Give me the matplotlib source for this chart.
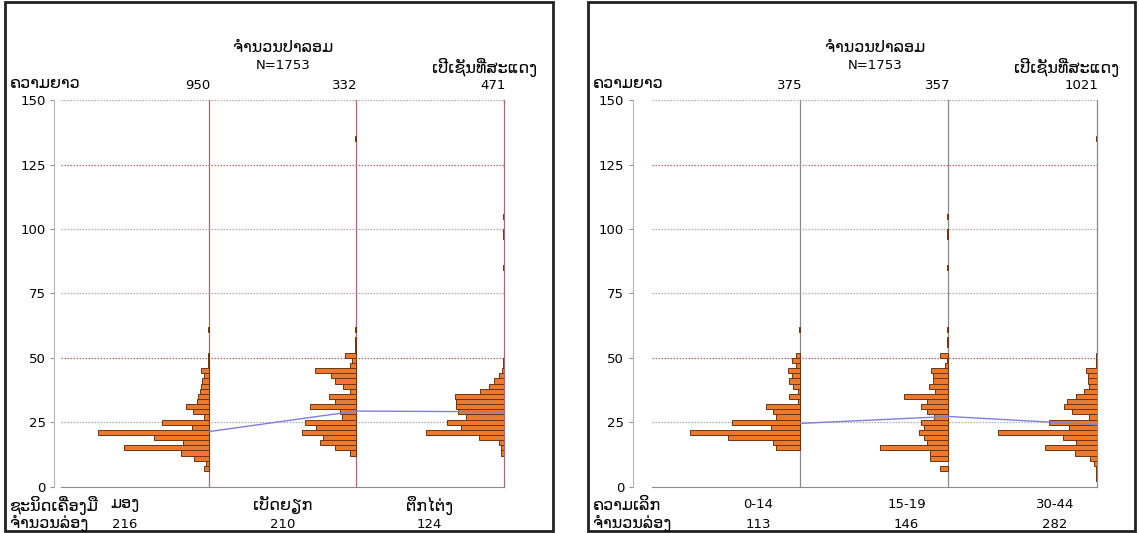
import matplotlib
matplotlib.use("Agg")
import matplotlib.pyplot as plt
from matplotlib.patches import Rectangle
from matplotlib.transforms import blended_transform_factory

# length classes (cm, bin centres, 2 cm bins) and percent of fish per group
gear_len = [
    [7, 9, 11, 13, 15, 17, 19, 21, 23, 25, 27, 29, 31, 33, 35, 37, 39, 41, 43, 45, 47, 49, 51, 61],
    [13, 15, 17, 19, 21, 23, 25, 27, 29, 31, 33, 35, 37, 39, 41, 43, 45, 47, 49, 51, 53, 55, 57, 61, 135],
    [13, 15, 17, 19, 21, 23, 25, 27, 29, 31, 33, 35, 37, 39, 41, 43, 45, 47, 49, 85, 97, 99, 105],
]
gear_pct = [
    [1.0, 0.6, 2.9, 5.5, 17.1, 5.1, 11.0, 22.4, 3.3, 9.4, 1.0, 3.1, 4.5, 2.4, 2.2, 1.7, 1.6, 1.4, 1.0, 1.5, 0.2, 0.2, 0.2, 0.2],
    [1.2, 4.3, 7.3, 6.7, 11.0, 8.2, 10.4, 2.9, 3.3, 9.4, 4.3, 5.5, 1.2, 2.7, 4.3, 5.1, 8.4, 1.2, 0.8, 2.2, 0.2, 0.2, 0.2, 0.2, 0.2],
    [0.6, 0.6, 1.0, 4.9, 15.7, 8.6, 11.4, 7.6, 9.2, 9.6, 9.6, 9.8, 4.7, 2.9, 2.0, 1.0, 0.4, 0.2, 0.2, 0.2, 0.2, 0.2, 0.2],
]
gear_mean = [21.3, 29.3, 29.0]
gear_names = ["ມອງ", "ເບັດຍຽກ", "ຕຶກໄຕ່ງ"]
gear_n = ["950", "332", "471"]
gear_sets = ["216", "210", "124"]

depth_len = [
    [15, 17, 19, 21, 23, 25, 27, 29, 31, 33, 35, 37, 39, 41, 43, 45, 47, 49, 51, 61],
    [7, 11, 13, 15, 17, 19, 21, 23, 25, 27, 29, 31, 33, 35, 37, 39, 41, 43, 45, 47, 49, 51, 55, 57, 61, 85, 97, 99, 105],
    [3, 5, 7, 9, 11, 13, 15, 17, 19, 21, 23, 25, 27, 29, 31, 33, 35, 37, 39, 41, 43, 45, 47, 49, 51, 135],
]
depth_pct = [
    [4.9, 5.5, 14.7, 22.4, 5.9, 13.9, 4.9, 5.5, 6.9, 0.4, 2.2, 0.4, 1.4, 2.2, 1.6, 2.4, 0.8, 1.6, 0.8, 0.2],
    [1.8, 3.7, 3.7, 13.9, 4.3, 4.9, 5.9, 4.9, 5.5, 2.9, 4.3, 5.5, 4.3, 9.0, 2.7, 3.9, 3.1, 3.1, 3.5, 0.8, 0.2, 1.8, 0.2, 0.2, 0.2, 0.2, 0.2, 0.2, 0.2],
    [0.2, 0.2, 0.2, 0.6, 1.4, 4.3, 10.4, 4.1, 6.9, 20.0, 5.7, 9.6, 1.6, 4.9, 6.7, 6.1, 4.1, 2.6, 1.5, 1.7, 1.7, 2.2, 0.2, 0.2, 0.2, 0.2],
]
depth_mean = [24.5, 27.2, 24.0]
depth_names = ["0-14", "15-19", "30-44"]
depth_n = ["375", "357", "1021"]
depth_sets = ["113", "146", "282"]

yticks = [0, 25, 50, 75, 100, 125, 150]

W, H = 1139, 533
GROUP_W = 30  # percent span of each group
NUM_FS = 9.5
LAO_FS = 11.5


def fx(px):
    return px / W


def fy(py):
    return 1 - py / H


def panel(fig, rect, frame, lens, pcts, means, n_labels, row1_title, row1, row2, label_x,
          divider_color, spine_out):
    x0, x1 = rect
    ax = fig.add_axes([fx(x0), fy(486.5), fx(x1 - x0), fy(100.3) - fy(486.5)])
    ax.set_xlim(0, 3 * GROUP_W)
    ax.set_ylim(0, 150)

    for g in range(3):
        right = GROUP_W * (g + 1)
        lefts = [right - p for p in pcts[g]]
        ax.barh(lens[g], pcts[g], left=lefts, height=2, color="#ec7a2c",
                edgecolor="#6b3414", linewidth=0.7, zorder=3)

    for v in yticks[1:]:
        c = "#c46a6a" if v in (50, 125) else "#b9a6a6"
        ax.axhline(v, color=c, linestyle=(0, (1.2, 1.2)), linewidth=0.9, zorder=1)
    for g in range(3):
        ax.axvline(GROUP_W * (g + 1), color=divider_color, linewidth=0.9, zorder=2,
                   clip_on=False)

    ax.plot([GROUP_W * (g + 1) for g in range(3)], means, color="#7f7fdc",
            linewidth=1.0, zorder=4, clip_on=False)

    for s in ["top", "right"]:
        ax.spines[s].set_visible(False)
    ax.spines["bottom"].set_color("#8c8c8c")
    ax.spines["left"].set_color("#b5b5b5")
    ax.spines["left"].set_position(("outward", spine_out))
    ax.set_xticks([])
    ax.set_yticks(yticks)
    ax.tick_params(axis="y", length=3, color="#909090", labelsize=NUM_FS, pad=3)

    tr = blended_transform_factory(ax.transData, fig.transFigure)
    for g in range(3):
        ax.text(GROUP_W * (g + 1) + 0.4, fy(85), n_labels[g], transform=tr,
                ha="right", va="center", fontsize=NUM_FS)
        fs = NUM_FS if row1[g][0].isdigit() else LAO_FS
        ax.text(label_x[g], fy(505), row1[g], transform=tr, ha="center",
                va="center", fontsize=fs)
        ax.text(label_x[g], fy(524), row2[g], transform=tr, ha="center",
                va="center", fontsize=NUM_FS)

    fl, fr = frame
    fig.text(fx(fl + 5), fy(84), "ຄວາມຍາວ", ha="left", va="center", fontsize=LAO_FS)
    fig.text(fx(fl + 5), fy(505), row1_title, ha="left", va="center", fontsize=LAO_FS)
    fig.text(fx(fl + 5), fy(523), "ຈຳນວນລ່ອງ", ha="left", va="center", fontsize=LAO_FS)
    mid = (x0 + x1) / 2 + 1
    fig.text(fx(mid), fy(47), "ຈຳນວນປາລອມ", ha="center", va="center", fontsize=LAO_FS)
    fig.text(fx(mid), fy(66), "N=1753", ha="center", va="center", fontsize=NUM_FS)
    fig.text(fx(fr - 16), fy(67), "ເປີເຊັນທີ່ສະແດງ", ha="right", va="center", fontsize=LAO_FS)

    fig.add_artist(Rectangle((fx(fl), fy(531)), fx(fr - fl), fy(2) - fy(531),
                             transform=fig.transFigure, fill=False,
                             edgecolor="#222222", linewidth=2))
    return ax


fig = plt.figure(figsize=(W / 100, H / 100), dpi=100)

panel(fig, (61, 503.5), (5, 553), gear_len, gear_pct, gear_mean, gear_n,
      "ຊະນິດເຄື່ອງມື", gear_names, gear_sets, [13, 45, 75], "#a86874", 5)
panel(fig, (652, 1096.7), (588, 1135), depth_len, depth_pct, depth_mean, depth_n,
      "ຄວາມເລິກ", depth_names, depth_sets, [21.5, 51.5, 81.5], "#8a8a8a", 14)

fig.savefig("out.png", dpi=100)
